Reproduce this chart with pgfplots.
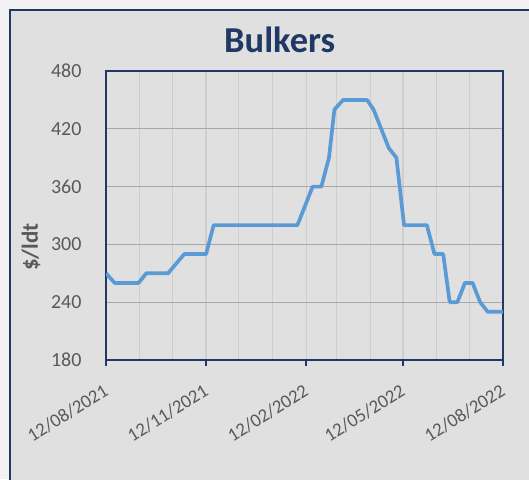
\documentclass[border=0pt]{standalone}
\usepackage{pgfplots}
\pgfplotsset{compat=1.18}
\usepackage{fontspec}
\setmainfont{Carlito}
\definecolor{outerbg}{HTML}{F2F2F2}
\definecolor{chartbg}{HTML}{E0E0E0}
\definecolor{navy}{HTML}{203864}
\definecolor{lineblue}{HTML}{5B9BD5}
\definecolor{ticktext}{HTML}{595959}
\definecolor{hgrid}{HTML}{A8A8A8}
\definecolor{vgrid}{HTML}{CECECE}
\begin{document}
\begin{tikzpicture}
\useasboundingbox (0pt,0pt) rectangle (529pt,-479pt);
\begin{scope}
\clip (0pt,0pt) rectangle (529pt,-479pt);
\fill[outerbg] (0pt,0pt) rectangle (529pt,-479pt);
\filldraw[fill=chartbg, draw=navy, line width=1.5pt] (10pt,-10pt) rectangle (560pt,-520pt);
\end{scope}
\begin{axis}[
  at={(106pt,-360pt)}, anchor=south west,
  scale only axis, width=397pt, height=289pt,
  xmin=0, xmax=365, ymin=180, ymax=480,
  ytick={180,240,...,480},
  xtick={0,92,184,273,365},
  xticklabels={12/08/2021,12/11/2021,12/02/2022,12/05/2022,12/08/2022},
  minor xtick={31,61,122,153,212,243,304,334},
  xmajorgrids, xminorgrids, ymajorgrids,
  x grid style={vgrid, line width=1.2pt},
  minor x grid style={vgrid, line width=1.2pt},
  y grid style={hgrid, line width=1.2pt},
  axis line style={navy, line width=1.5pt},
  tick align=outside,
  xtick pos=bottom,
  ytick pos=left,
  x tick style={navy, line width=1.5pt},
  major tick length=6pt,
  minor tick length=0pt,
  y tick style={draw=none},
  /pgf/number format/assume math mode=true,
  ticklabel style={font=\fontsize{20}{24}\selectfont, text=ticktext},
  yticklabel style={xshift=-15pt},
  xticklabel style={font=\fontsize{18.8}{22}\selectfont, yshift=-28pt, xshift=3.5pt, rotate=32, anchor=base east, inner sep=0pt},
  ylabel={\$/ldt},
  ylabel style={at={(axis description cs:-0.189,0.391)}, anchor=center, font=\fontsize{23}{26}\selectfont\bfseries, text=ticktext},
  title={Bulkers},
  title style={at={(axis description cs:0.4375,1.044)}, anchor=base, font=\fontsize{36.5}{40}\selectfont\bfseries, text=navy},
  clip=true,
]
\addplot[lineblue, line width=3.7pt, line join=round] coordinates {
(0,270) (8,260) (30,260) (37,270) (57,270) (72,290) (92,290) (99,320)
(176,320) (190,360) (198,360) (205,390) (210,440) (218,450) (240,450)
(246,440) (260,400) (267,390) (274,320) (295,320) (302,290) (310,290)
(316,240) (323,240) (330,260) (337,260) (344,240) (351,230) (365,230)
};
\end{axis}
\end{tikzpicture}
\end{document}
